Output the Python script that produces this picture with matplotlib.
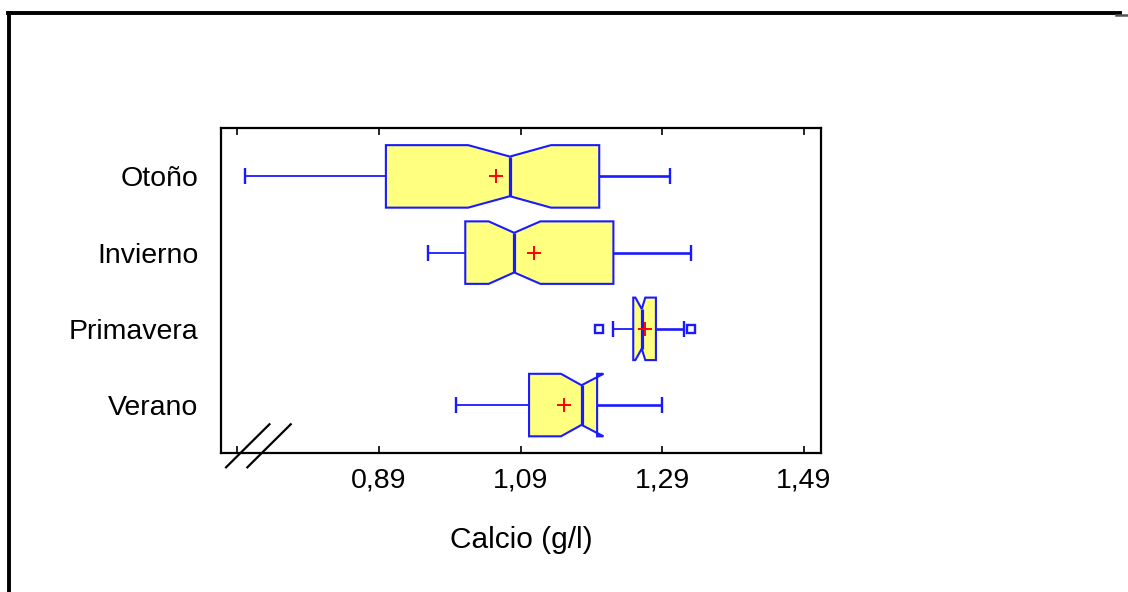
import matplotlib
matplotlib.use("Agg")
import matplotlib.pyplot as plt
from matplotlib.lines import Line2D

# Calcio por estación: notched box plot
seasons = ["Verano", "Primavera", "Invierno", "Otoño"]
whisker_lo = [0.999, 1.221, 0.960, 0.701]
q1 = [1.102, 1.249, 1.012, 0.900]
notch_lo = [1.147, 1.252, 1.045, 1.016]
median = [1.176, 1.261, 1.081, 1.075]
notch_hi = [1.207, 1.266, 1.118, 1.133]
q3 = [1.198, 1.281, 1.221, 1.201]
whisker_hi = [1.290, 1.321, 1.331, 1.301]
means = [1.152, 1.265, 1.109, 1.055]
outlier_season = ["Primavera", "Primavera"]
outlier_val = [1.201, 1.330]

xticks = [0.69, 0.89, 1.09, 1.29, 1.49]
xticklabels = ["", "0,89", "1,09", "1,29", "1,49"]

BLUE = "#1a1aff"
FILL = "#ffff80"
HALF = 0.41      # half box height (category units)
NOTCH = 0.26     # half height at the median notch
CAP = 0.105

plt.rcParams["font.family"] = ["Liberation Sans", "DejaVu Sans"]

fig = plt.figure(figsize=(11.28, 5.92), dpi=100)
ax = fig.add_axes([0.1957, 0.2353, 0.5322, 0.5485])

for i, name in enumerate(seasons):
    y = i + 1
    xs = [q1[i], notch_lo[i], median[i], notch_hi[i], q3[i],
          q3[i], notch_hi[i], median[i], notch_lo[i], q1[i]]
    ys = [y + HALF, y + HALF, y + NOTCH, y + HALF, y + HALF,
          y - HALF, y - HALF, y - NOTCH, y - HALF, y - HALF]
    ax.fill(xs, ys, facecolor=FILL, edgecolor=BLUE, lw=1.5, zorder=2)
    ax.vlines(median[i], y - NOTCH, y + NOTCH, color=BLUE, lw=2.3, zorder=3)
    ax.hlines(y, whisker_lo[i], q1[i], color=BLUE, lw=1.3, zorder=1)
    ax.hlines(y, q3[i], whisker_hi[i], color=BLUE, lw=1.9, zorder=1)
    ax.vlines([whisker_lo[i], whisker_hi[i]], y - CAP, y + CAP, color=BLUE, lw=1.7)
    ax.plot(means[i], y, marker="+", color="red", ms=10, mew=1.4, zorder=4)

out_y = [seasons.index(s) + 1 for s in outlier_season]
ax.plot(outlier_val, out_y, ls="none", marker="s", ms=6, mfc="none",
        mec=BLUE, mew=1.7, zorder=4)

ax.set_xlim(0.667, 1.514)
ax.set_ylim(0.375, 4.635)
ax.set_xticks(xticks)
ax.set_xticklabels(xticklabels)
ax.set_yticks(range(1, len(seasons) + 1))
ax.set_yticklabels(seasons)
ax.tick_params(axis="x", direction="in", length=5, width=1.2, top=True,
               labelsize=20.5, pad=11)
ax.tick_params(axis="y", length=0, labelsize=20.5, pad=16)
for sp in ax.spines.values():
    sp.set_linewidth(1.6)
ax.set_xlabel("Calcio (g/l)", fontsize=21.5, labelpad=23)

# axis break marks "//" at the lower left
for x0 in (0.0088, 0.0443):
    ax.add_line(Line2D([x0, x0 + 0.0723], [-0.045, 0.0875], transform=ax.transAxes,
                       color="black", lw=1.6, clip_on=False))

# outer frame (top and left edges only are visible)
fig.add_artist(Line2D([0.0071, 0.9929], [0.978, 0.978], color="black", lw=2.8))
fig.add_artist(Line2D([0.008, 0.008], [0.0, 0.978], color="black", lw=2.8))
fig.add_artist(Line2D([0.989, 1.0], [0.9745, 0.9745], color="#555555", lw=1.8))

fig.savefig("out.png", dpi=100)
